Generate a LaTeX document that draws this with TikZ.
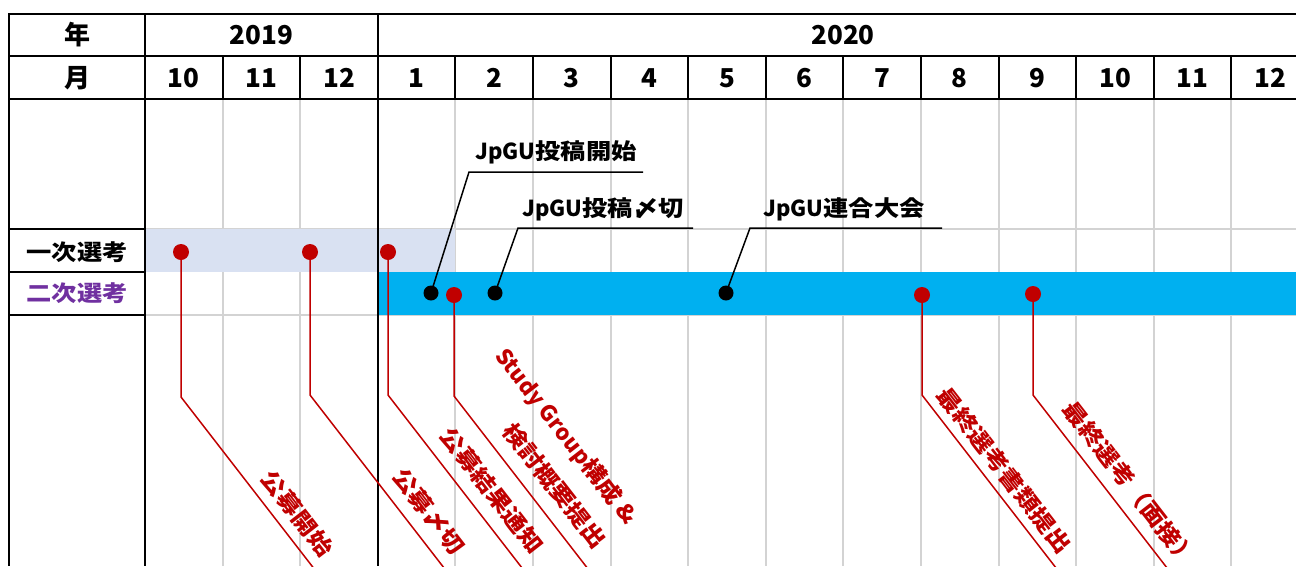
\documentclass[tikz,border=0pt]{standalone}
\usepackage{fontspec}
\newfontfamily\jpH{Noto Sans CJK JP}
\newfontfamily\jpA{Noto Sans CJK JP}[FakeStretch=1.15]
\usetikzlibrary{calc}
\definecolor{redc}{HTML}{C00000}
\definecolor{cyanband}{HTML}{00B0F0}
\definecolor{lavband}{HTML}{D9E1F2}
\definecolor{gridgray}{HTML}{D3D3D3}
\definecolor{purp}{HTML}{7030A0}
\begin{document}
\begin{tikzpicture}[x=1pt,y=-1pt,
  blk/.style={line width=2pt, black},
  gridln/.style={line width=2pt, gridgray},
  hdr/.style={font=\jpH\bfseries\fontsize{26}{30}\selectfont, inner sep=0pt},
  lbl/.style={font=\jpA\bfseries\fontsize{22}{26}\selectfont, inner sep=0pt},
  redlbl/.style={font=\jpA\bfseries\fontsize{22}{40}\selectfont, text=redc, inner sep=0pt, rotate=-52.2},
  reddot/.style={circle, fill=redc, minimum size=16pt, inner sep=0pt},
  blkdot/.style={circle, fill=black, minimum size=15pt, inner sep=0pt},
  redline/.style={redc, line width=1.5pt},
  leader/.style={black, line width=1.5pt},
]
\clip (0,0) rectangle (1296,566);
\fill[white] (0,0) rectangle (1296,566);

% gray grid
\foreach \i in {1,2,4,5,6,7,8,9,10,11,12,13,14,15}
  \draw[gridln] (145+77.6*\i, 99) -- (145+77.6*\i, 566);
\draw[gridln] (145,229) -- (1296,229);
\draw[gridln] (145,315) -- (1296,315);

% bands
\fill[lavband] (146,229) rectangle (455.4,272);
\fill[cyanband] (378,272) rectangle (1296,315);

% black table lines
\draw[blk] (9,14) -- (1296,14);
\draw[blk] (9,56) -- (1296,56);
\draw[blk] (9,99) -- (1296,99);
\draw[blk] (9,13) -- (9,566);
\draw[blk] (145,13) -- (145,566);
\draw[black, line width=2.5pt] (377.8,13) -- (377.8,566);
\draw[blk] (9,229) -- (145,229);
\draw[blk] (9,272) -- (145,272);
\draw[blk] (9,315) -- (145,315);
\foreach \i in {1,2,4,5,6,7,8,9,10,11,12,13,14,15}
  \draw[blk] (145+77.6*\i, 56) -- (145+77.6*\i, 99);

% header texts
\node[hdr] (nen) at (77,35) {年};
\node[hdr] (tsuki) at (77,78) {月};
\node[hdr] (y2019) at (261.4,35) {2019};
\node[hdr] (y2020) at (843,35) {2020};
\foreach \m [count=\i from 0] in {10,11,12,1,2,3,4,5,6,7,8,9,10,11,12}
  \node[hdr] (m\i) at (145+77.6*\i+38.8, 78) {\m};

% row labels
\node[lbl] (sel1) at (77,252) {一次選考};
\node[lbl, text=purp] (sel2) at (77,293) {二次選考};

% black milestones
\node[blkdot] (b1) at (431,293) {};
\node[blkdot] (b2) at (495,293) {};
\node[blkdot] (b3) at (726,293) {};
\coordinate (k1) at (469,172);
\coordinate (e1) at (643,172);
\coordinate (k2) at (518,228);
\coordinate (e2) at (693,228);
\coordinate (k3) at (750,228);
\coordinate (e3) at (942,228);
\draw[leader] (b1.center) -- (k1) -- (e1);
\draw[leader] (b2.center) -- (k2) -- (e2);
\draw[leader] (b3.center) -- (k3) -- (e3);
\node[lbl, anchor=south] (t1) at (556,164) {{\jpH JpGU}投稿開始};
\node[lbl, anchor=south] (t2) at (603,221) {{\jpH JpGU}投稿〆切};
\node[lbl, anchor=south] (t3) at (844,221) {{\jpH JpGU}連合大会};

% red milestones
\node[reddot] (r1) at (181,252) {};
\node[reddot] (r2) at (310,252) {};
\node[reddot] (r3) at (388,252) {};
\node[reddot] (r4) at (454,295) {};
\node[reddot] (r5) at (922,295) {};
\node[reddot] (r6) at (1033,294) {};
\coordinate (q1) at (181,397);
\coordinate (q2) at (310,395);
\coordinate (q3) at (388,395);
\coordinate (q4) at (454,396);
\coordinate (q5) at (922,395);
\coordinate (q6) at (1033,395);
\foreach \n in {1,...,6}
  \draw[redline] (r\n.center) -- (q\n) -- ++(155,200);

\node[redlbl, anchor=south west] (l1) at ($(q1)+(76.5,82.4)$) {公募開始};
\node[redlbl, anchor=south west] (l2) at ($(q2)+(79.4,82.7)$) {公募〆切};
\node[redlbl, anchor=south west] (l3) at ($(q3)+(48.9,41.8)$) {公募結果通知};
\node[redlbl, anchor=south east, align=right] (l4) at ($(q4)+(139.2,156.6)$) {{\jpH Study Group}構成 \&\\検討概要提出};
\node[redlbl, anchor=south west] (l5) at ($(q5)+(11.8,2.2)$) {最終選考書類提出};
\node[redlbl, anchor=south west] (l6) at ($(q6)+(26.5,16.2)$) {最終選考（面接）};
\end{tikzpicture}
\end{document}
